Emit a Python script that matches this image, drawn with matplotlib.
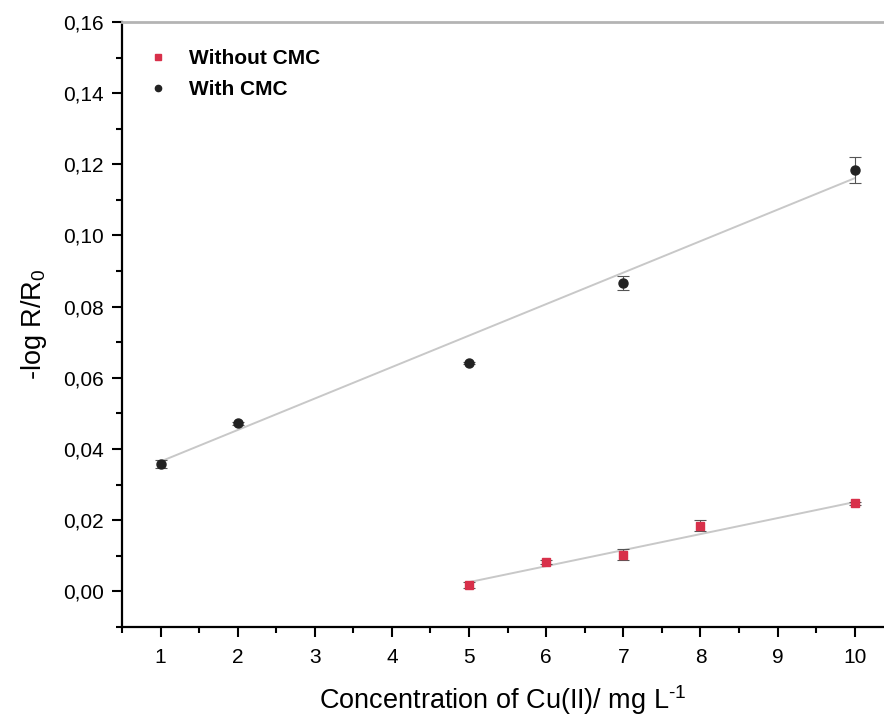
import matplotlib
matplotlib.use("Agg")
import matplotlib.pyplot as plt
from matplotlib.ticker import FuncFormatter, MultipleLocator
from matplotlib.lines import Line2D
import numpy as np

plt.rcParams['font.family'] = ['Liberation Sans', 'DejaVu Sans']
plt.rcParams['mathtext.fontset'] = 'custom'
plt.rcParams['mathtext.rm'] = 'Liberation Sans'
plt.rcParams['mathtext.it'] = 'Liberation Sans:italic'
plt.rcParams['mathtext.default'] = 'regular'

# Data
x_without = [5, 6, 7, 8, 10]
y_without = [0.0017, 0.0082, 0.0103, 0.0185, 0.0247]
e_without = [0.0008, 0.0006, 0.0015, 0.0015, 0.0005]

x_with = [1, 2, 5, 7, 10]
y_with = [0.0358, 0.0472, 0.0641, 0.0866, 0.1184]
e_with = [0.0010, 0.0004, 0.0003, 0.0019, 0.0036]

# Linear fits (slope, intercept) and ranges
fit_without = (0.0045, -0.0199)
fit_without_range = [5, 10]
fit_with = (0.008844, 0.02766)
fit_with_range = [1, 10]

red = '#d8304a'
blk = '#222222'

fig = plt.figure(figsize=(8.84, 7.22), dpi=100)
ax = fig.add_axes([0.138, 0.1316, 0.862, 0.838])

fx = np.array(fit_with_range)
ax.plot(fx, fit_with[0] * fx + fit_with[1], color='#c8c8c8', lw=1.4, zorder=1)
fx = np.array(fit_without_range)
ax.plot(fx, fit_without[0] * fx + fit_without[1], color='#c8c8c8', lw=1.4, zorder=1)

ax.errorbar(x_without, y_without, yerr=e_without, fmt='s', color=red,
            ms=6, ecolor='#555555', elinewidth=0.8, capsize=4, capthick=0.8, zorder=3)
ax.errorbar(x_with, y_with, yerr=e_with, fmt='o', color=blk,
            ms=6.5, ecolor='#555555', elinewidth=0.8, capsize=4, capthick=0.8, zorder=3)

ax.set_xlim(0.5, 10.38)
ax.set_ylim(-0.01, 0.16)
ax.xaxis.set_major_locator(MultipleLocator(1))
ax.xaxis.set_minor_locator(MultipleLocator(0.5))
ax.yaxis.set_major_locator(MultipleLocator(0.02))
ax.yaxis.set_minor_locator(MultipleLocator(0.01))
ax.yaxis.set_major_formatter(FuncFormatter(lambda v, p: f"{v:.2f}".replace('.', ',').replace('-0,00', '0,00')))
ax.xaxis.set_major_formatter(FuncFormatter(lambda v, p: f"{int(round(v))}"))

ax.tick_params(axis='both', which='major', direction='out', length=7, width=1.5, labelsize=15, colors='black')
ax.tick_params(axis='x', which='major', pad=8)
ax.tick_params(axis='y', which='major', pad=6)
ax.tick_params(axis='both', which='minor', direction='out', length=4, width=1.5)

for s in ['left', 'bottom']:
    ax.spines[s].set_linewidth(1.6)
    ax.spines[s].set_color('black')
ax.spines['right'].set_visible(False)
ax.spines['top'].set_color('#b4b4b4')
ax.spines['top'].set_linewidth(2)

ax.set_xlabel('Concentration of Cu(II)/ mg L$^{\\text{-1}}$', fontsize=19.5, labelpad=12)
ax.set_ylabel('-log R/R$_0$', fontsize=19.5, labelpad=10)

handles = [Line2D([], [], ls='none', marker='s', color=red, ms=4.5),
           Line2D([], [], ls='none', marker='o', color=blk, ms=4.5)]
ax.legend(handles, ['Without CMC', 'With CMC'], loc='upper left', frameon=False,
          prop={'weight': 'bold', 'size': 15}, handlelength=1.2,
          handletextpad=0.9, borderaxespad=0.6, labelspacing=0.6,
          bbox_to_anchor=(0.003, 0.99))

fig.savefig('out.png', dpi=100)
